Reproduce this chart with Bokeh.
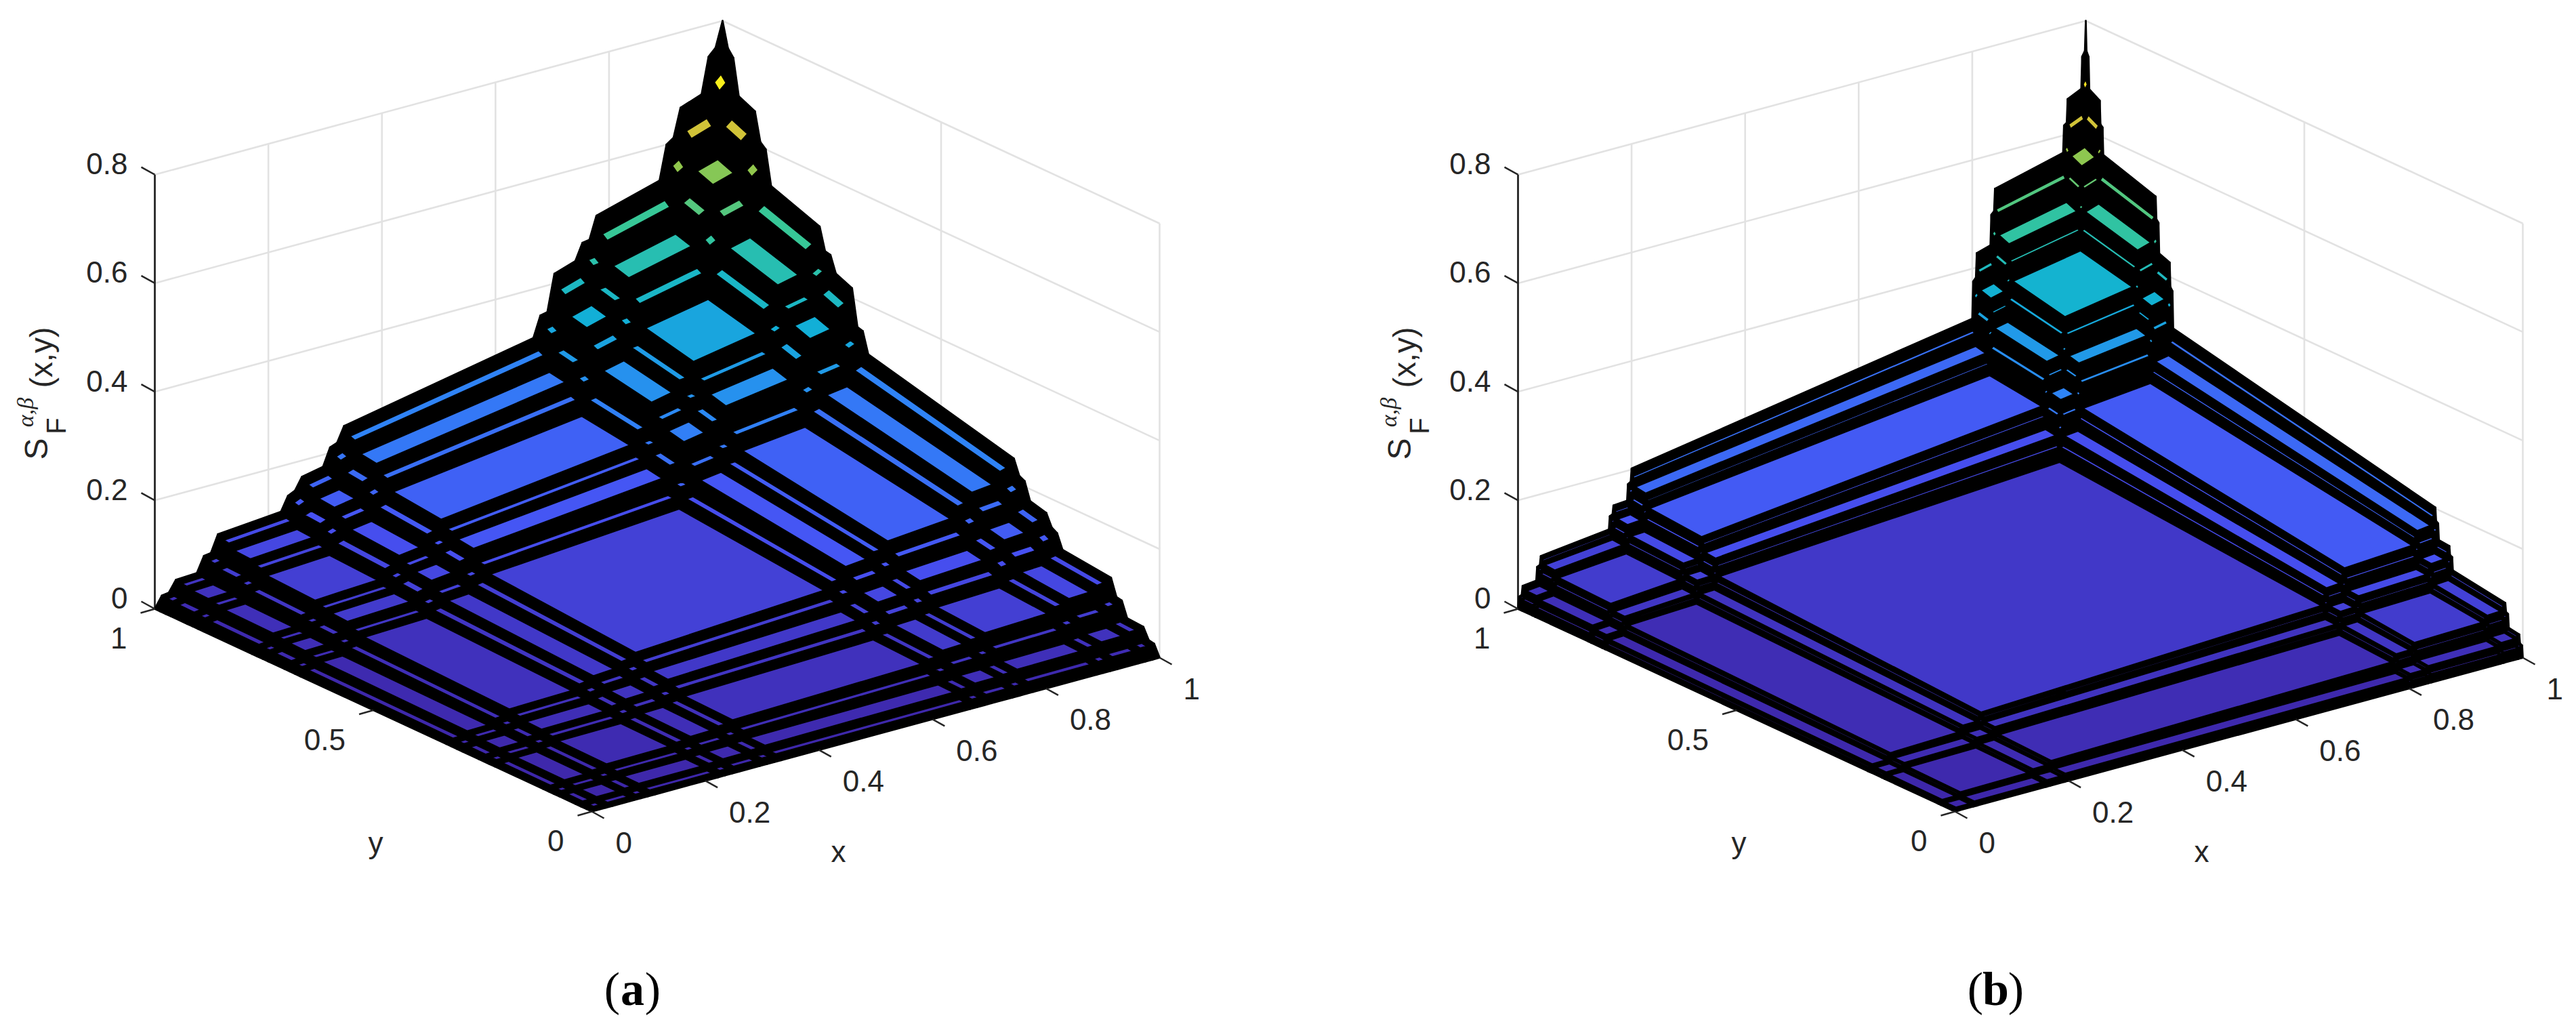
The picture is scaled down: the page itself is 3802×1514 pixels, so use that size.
import numpy as np
from bokeh.core.properties import value
from bokeh.embed import file_html
from bokeh.models import ColumnDataSource, LinearColorMapper, Range1d
from bokeh.plotting import figure
from bokeh.resources import INLINE

# grid knots of the surface (same along x and y) and the height read
# along the back edge y=1 for each knot; the surface is h(x)*h(y)/z_top
x_a = [0, 1/81, 2/81, 3/81, 6/81, 7/81, 8/81, 9/81,
       18/81, 19/81, 20/81, 21/81, 24/81, 25/81, 26/81, 27/81,
       54/81, 55/81, 56/81, 57/81, 60/81, 61/81, 62/81, 63/81,
       72/81, 73/81, 74/81, 75/81, 78/81, 79/81, 80/81, 1]
h_a = [0, .021, .023, .043, .045, .073, .075, .106,
       .116, .142, .148, .170, .178, .210, .215, .2425,
       .310, .348, .351, .418, .431, .461, .463, .504,
       .537, .600, .609, .661, .675, .741, .754, .8]

x_b = [0, .0016, .0064, .008, .032, .0336, .0384, .04,
       .16, .1616, .1664, .168, .192, .1936, .1984, .2,
       .8, .8016, .8064, .808, .832, .8336, .8384, .84,
       .96, .9616, .9664, .968, .992, .9936, .9984, 1]
h_b = [0, .022, .024, .040, .043, .068, .070, .086,
       .101, .125, .127, .143, .145, .175, .178, .202,
       .308, .376, .382, .4265, .434, .490, .495, .536,
       .568, .618, .622, .665, .677, .736, .745, .8]

x_ticks = [0, .2, .4, .6, .8, 1]
x_labels = ["0", "0.2", "0.4", "0.6", "0.8", "1"]
y_ticks = [0, .5, 1]
y_labels = ["0", "0.5", "1"]
z_ticks = [0, .2, .4, .6, .8]
z_labels = ["0", "0.2", "0.4", "0.6", "0.8"]
z_top = .8
colour_top = .70

# parula colormap
parula_t = [0, 1/6, 2/6, 3/6, 4/6, 5/6, .92, 1]
parula_r = [.2422, .2810, .1786, .0689, .2161, .6720, .9900, .9769]
parula_g = [.1504, .3228, .5289, .6948, .7843, .7793, .7500, .9839]
parula_b = [.6603, .9579, .9682, .8394, .5923, .2227, .2200, .0805]

t = np.linspace(0, 1, 256)
palette = ["#%02x%02x%02x" % (int(r*255), int(g*255), int(b*255))
           for r, g, b in zip(np.interp(t, parula_t, parula_r),
                              np.interp(t, parula_t, parula_g),
                              np.interp(t, parula_t, parula_b))]
mapper = LinearColorMapper(palette=palette, low=0, high=colour_top)

# view of the box in page pixels: front corner, unit x and y vectors, z scale
FX, FY = 873, 1197
XV = (838, -227)
YV = (-645, -299)
ZPX = 801
PANEL_B_DX = 2012

GRID = "#e2e2e2"
INK = "#262626"
SANS = value("Liberation Sans")
SERIF = value("Liberation Serif")


def project(x, y, z, dx):
    x, y, z = np.asarray(x, float), np.asarray(y, float), np.asarray(z, float)
    sx = FX + x*XV[0] + y*YV[0] + dx
    sy = FY + x*XV[1] + y*YV[1] - z*ZPX
    return sx, sy


def segments(p0, p1, dx):
    # list of straight lines between 3D points
    a = project(*p0, dx)
    b = project(*p1, dx)
    return [[u, v] for u, v in zip(a[0], b[0])], [[u, v] for u, v in zip(a[1], b[1])]


p = figure(width=3790, height=1506, output_backend="svg", toolbar_location=None,
           x_range=Range1d(0, 3790), y_range=Range1d(1506, 0),
           x_axis_location=None, y_axis_location=None,
           min_border=0, outline_line_color=None)
p.xgrid.visible = False
p.ygrid.visible = False


def panel(knots, heights, caption, dx):
    nt = len(x_ticks)
    ny = len(y_ticks)
    nz = len(z_ticks)
    xt, yt, zt = np.array(x_ticks), np.array(y_ticks), np.array(z_ticks)

    # back walls: grid lines
    lines = [
        ((xt, np.ones(nt), np.zeros(nt)), (xt, np.ones(nt), np.full(nt, z_top))),
        ((np.ones(ny), yt, np.zeros(ny)), (np.ones(ny), yt, np.full(ny, z_top))),
        ((np.zeros(nz), np.ones(nz), zt), (np.ones(nz), np.ones(nz), zt)),
        ((np.ones(nz), np.ones(nz), zt), (np.ones(nz), np.zeros(nz), zt)),
    ]
    for p0, p1 in lines:
        xs, ys = segments(p0, p1, dx)
        p.multi_line(xs, ys, line_color=GRID, line_width=2.6)

    # z axis
    xs, ys = segments(([0], [1], [0]), ([0], [1], [z_top]), dx)
    p.multi_line(xs, ys, line_color=INK, line_width=2.8)

    # surface cells; the narrow clusters of the grid show as black
    k = np.array(knots, float)
    h = np.array(heights, float)
    dark_x, dark_y = [], []
    cell_x, cell_y, cell_z = [], [], []
    n = len(k) - 1
    for i in range(n - 1, -1, -1):
        for j in range(n - 1, -1, -1):
            qx = [k[i], k[i+1], k[i+1], k[i]]
            qy = [k[j], k[j], k[j+1], k[j+1]]
            qz = [h[i]*h[j]/z_top, h[i+1]*h[j]/z_top,
                  h[i+1]*h[j+1]/z_top, h[i]*h[j+1]/z_top]
            sx, sy = project(qx, qy, qz, dx)
            if i % 2 == 1 and j % 2 == 1:
                cell_x.append(sx.tolist())
                cell_y.append(sy.tolist())
                cell_z.append(qz[0])
            else:
                dark_x.append(sx.tolist())
                dark_y.append(sy.tolist())
    p.patches(dark_x, dark_y, fill_color="black", line_color="black",
              line_width=2.8, line_join="round")
    cells = ColumnDataSource(dict(xs=cell_x, ys=cell_y, z=cell_z))
    p.patches("xs", "ys", source=cells,
              fill_color={"field": "z", "transform": mapper},
              line_color="black", line_width=2.8, line_join="round")

    # ticks
    tick_style = dict(line_color=INK, line_width=2.5)
    sx, sy = project(xt, np.zeros(nt), np.zeros(nt), dx)
    p.multi_line([[a, a+18] for a in sx], [[b, b+10] for b in sy], **tick_style)
    p.text(sx+35, sy+46, text=x_labels, text_font=SANS, text_font_size="44px",
           text_color=INK, text_align="left", text_baseline="middle")

    sx, sy = project(np.zeros(ny), yt, np.zeros(ny), dx)
    p.multi_line([[a, a-21] for a in sx], [[b, b+6] for b in sy], **tick_style)
    p.text(sx-41, sy+43, text=y_labels, text_font=SANS, text_font_size="44px",
           text_color=INK, text_align="right", text_baseline="middle")

    sx, sy = project(np.zeros(nz), np.ones(nz), zt, dx)
    p.multi_line([[a, a-20] for a in sx], [[b, b-11] for b in sy], **tick_style)
    p.text(sx-40, sy-16, text=z_labels, text_font=SANS, text_font_size="44px",
           text_color=INK, text_align="right", text_baseline="middle")

    # axis names
    p.text([1237+dx], [1256], text=["x"], text_font=SANS, text_font_size="44px",
           text_color=INK, text_align="center", text_baseline="middle")
    p.text([554+dx], [1243], text=["y"], text_font=SANS, text_font_size="44px",
           text_color=INK, text_align="center", text_baseline="middle")

    vert = dict(angle=np.pi/2, text_color=INK, text_align="center", text_baseline="middle")
    p.text([53+dx], [662], text=["S"], text_font=SANS, text_font_size="48px", **vert)
    p.text([82+dx], [628], text=["F"], text_font=SANS, text_font_size="40px", **vert)
    p.text([37+dx], [608], text=["α,β"], text_font=SERIF, text_font_style="italic",
           text_font_size="34px", **vert)
    p.text([60+dx], [527], text=["(x,y)"], text_font=SANS, text_font_size="46px", **vert)

    # panel caption
    cap = dict(text_color="black", text_align="center", text_baseline="middle")
    p.text([903+dx], [1459], text=["("], text_font=SERIF, text_font_size="70px", **cap)
    p.text([933+dx], [1459], text=[caption], text_font=SERIF, text_font_style="bold",
           text_font_size="70px", **cap)
    p.text([963+dx], [1459], text=[")"], text_font=SERIF, text_font_size="70px", **cap)


panel(x_a, h_a, "a", 0)
panel(x_b, h_b, "b", PANEL_B_DX)

open("out.html", "w").write(file_html(p, INLINE))
